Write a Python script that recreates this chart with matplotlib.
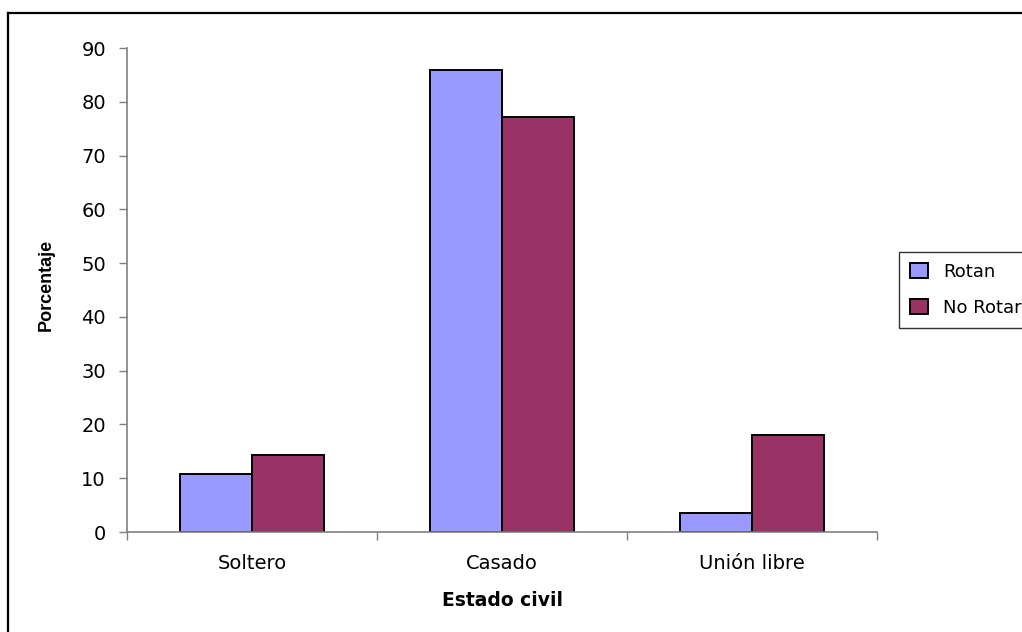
import matplotlib
matplotlib.use("Agg")
import matplotlib.pyplot as plt
from matplotlib.lines import Line2D
import numpy as np

categories = ["Soltero", "Casado", "Unión libre"]
rotan = [10.8, 85.9, 3.6]
no_rotan = [14.3, 77.2, 18.1]
series_names = ["Rotan", "No Rotar"]
y_ticks = [0, 10, 20, 30, 40, 50, 60, 70, 80, 90]

plt.rcParams["font.family"] = ["DejaVu Sans"]

W, H = 1022, 632
fig = plt.figure(figsize=(W / 100, H / 100), dpi=100)
fig.patch.set_facecolor("white")
ax = fig.add_axes([127 / W, 1 - 532 / H, 750 / W, 484 / H])

x = np.arange(len(categories))
bw = 0.288
ax.bar(x - bw / 2, rotan, bw, color="#9999FF", edgecolor="black", linewidth=1.4,
       label=series_names[0])
ax.bar(x + bw / 2, no_rotan, bw, color="#993366", edgecolor="black", linewidth=1.4,
       label=series_names[1])

ax.set_xlim(-0.5, len(categories) - 0.5)
ax.set_ylim(0, 90)
ax.set_yticks(y_ticks)
ax.tick_params(axis="y", length=5.8, width=1, color="#808080", labelsize=14, pad=9.4)

# category boundaries as major ticks, names on minor ticks
ax.set_xticks(np.arange(len(categories) + 1) - 0.5)
ax.set_xticklabels([])
ax.set_xticks(x, minor=True)
ax.set_xticklabels(categories, minor=True)
ax.tick_params(axis="x", which="major", length=5.8, width=1, color="#808080")
ax.tick_params(axis="x", which="minor", length=0, labelsize=14, pad=15.5)

for s in ("top", "right"):
    ax.spines[s].set_visible(False)
for s in ("left", "bottom"):
    ax.spines[s].set_color("#808080")
    ax.spines[s].set_linewidth(1.2)

ax.set_ylabel("Porcentaje", fontsize=13, fontweight="bold",
              family="Liberation Sans")
ax.yaxis.set_label_coords((55 - 127) / 750, 0.51)
ax.set_xlabel("Estado civil", fontsize=13.5, fontweight="bold")
ax.xaxis.set_label_coords(0.5, -(591 - 532) / 484)

leg = fig.legend(loc="upper left", bbox_to_anchor=(899 / W, 1 - 252 / H),
                 fontsize=13, frameon=True, fancybox=False, shadow=False,
                 borderpad=0.6, labelspacing=1.0, handlelength=1.0,
                 handleheight=0.85, handletextpad=0.85, borderaxespad=0)
leg.get_frame().set_edgecolor("black")
leg.get_frame().set_linewidth(1.0)

# outer chart frame (left and top edges)
fig.add_artist(Line2D([8 / W, 8 / W], [0, 1 - 13 / H], color="black", linewidth=1.6,
                      transform=fig.transFigure))
fig.add_artist(Line2D([8 / W, 1], [1 - 13 / H, 1 - 13 / H], color="black",
                      linewidth=1.6, transform=fig.transFigure))

fig.savefig("out.png", dpi=100)
